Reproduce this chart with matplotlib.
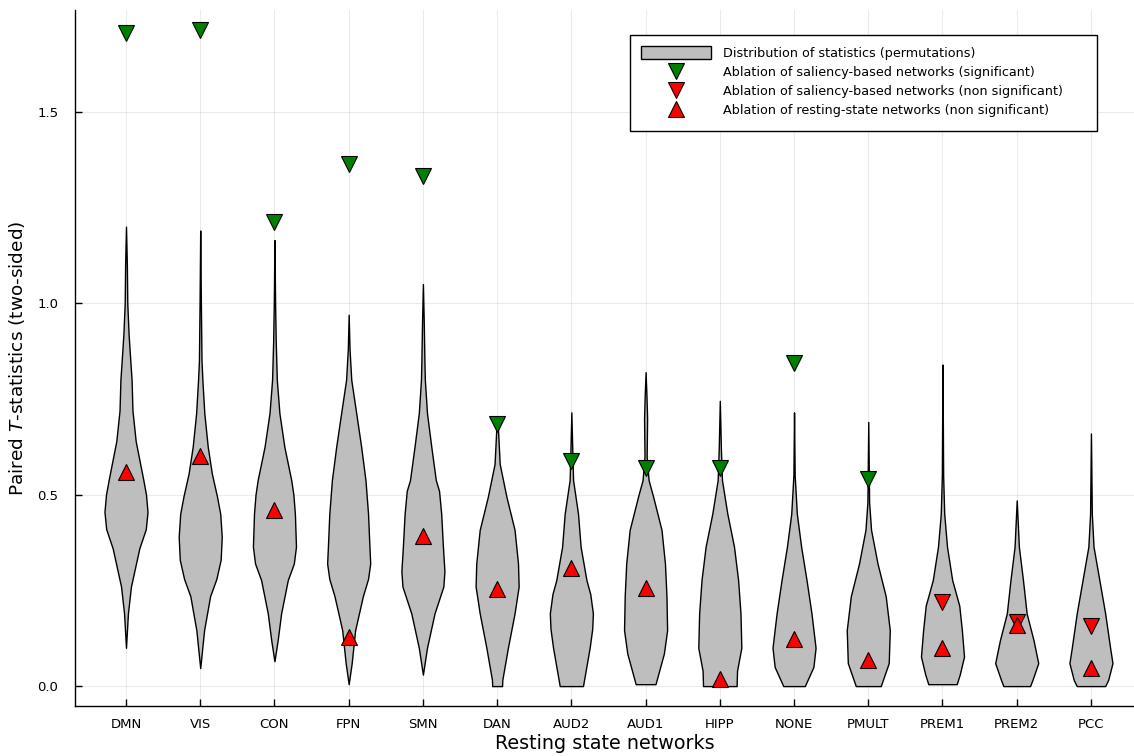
import numpy as np
import matplotlib
matplotlib.use("Agg")
import matplotlib.pyplot as plt
from matplotlib.patches import Patch, Rectangle
from matplotlib.lines import Line2D

# -----------------------------
# Data
# -----------------------------
networks = ["DMN", "VIS", "CON", "FPN", "SMN", "DAN", "AUD2", "AUD1",
            "HIPP", "NONE", "PMULT", "PREM1", "PREM2", "PCC"]

# violin outlines: levels (T-statistic) and relative half-widths (1 = widest)
DMN_Y = [0.10, 0.19, 0.26, 0.36, 0.41, 0.455, 0.50, 0.54, 0.64, 0.72, 0.80, 0.85, 0.92, 1.00, 1.10, 1.20]
DMN_W = [0, 0.09, 0.23, 0.62, 0.92, 1.0, 0.93, 0.80, 0.45, 0.30, 0.26, 0.20, 0.12, 0.06, 0.04, 0]
VIS_Y = [0.047, 0.146, 0.235, 0.28, 0.33, 0.39, 0.45, 0.495, 0.555, 0.625, 0.713, 0.80, 0.85, 1.0, 1.19]
VIS_W = [0, 0.18, 0.46, 0.75, 0.95, 1.0, 0.93, 0.78, 0.54, 0.35, 0.19, 0.1, 0.06, 0.03, 0]
CON_Y = [0.065, 0.12, 0.19, 0.277, 0.32, 0.364, 0.45, 0.50, 0.538, 0.625, 0.713, 0.80, 0.90, 1.0, 1.165]
CON_W = [0, 0.15, 0.31, 0.62, 0.9, 1.0, 0.95, 0.88, 0.78, 0.46, 0.23, 0.11, 0.06, 0.03, 0]
FPN_Y = [0.005, 0.06, 0.146, 0.235, 0.28, 0.32, 0.37, 0.45, 0.538, 0.625, 0.713, 0.80, 0.88, 0.97]
FPN_W = [0, 0.14, 0.30, 0.66, 0.9, 1.0, 0.96, 0.90, 0.78, 0.58, 0.35, 0.12, 0.04, 0]
SMN_Y = [0.03, 0.10, 0.19, 0.26, 0.30, 0.364, 0.45, 0.51, 0.538, 0.625, 0.713, 0.80, 0.85, 0.95, 1.05]
SMN_W = [0, 0.19, 0.54, 0.95, 1.0, 0.93, 0.85, 0.75, 0.6, 0.39, 0.19, 0.09, 0.07, 0.04, 0]
DAN_Y = [0.0, 0.016, 0.10, 0.19, 0.26, 0.32, 0.408, 0.495, 0.58, 0.67, 0.70]
DAN_W = [0.23, 0.24, 0.5, 0.81, 1.0, 0.97, 0.81, 0.43, 0.12, 0.04, 0]
AUD2_Y = [0.0, 0.10, 0.15, 0.19, 0.24, 0.277, 0.364, 0.45, 0.538, 0.60, 0.715]
AUD2_W = [0.54, 0.85, 0.97, 1.0, 0.88, 0.70, 0.43, 0.31, 0.08, 0.05, 0]
AUD1_Y = [0.005, 0.085, 0.146, 0.235, 0.32, 0.408, 0.495, 0.538, 0.60, 0.70, 0.76, 0.82]
AUD1_W = [0.46, 0.85, 1.0, 0.97, 0.9, 0.74, 0.35, 0.14, 0.05, 0.07, 0.04, 0]
HIPP_Y = [0.0, 0.04, 0.10, 0.19, 0.277, 0.364, 0.45, 0.538, 0.62, 0.745]
HIPP_W = [0.78, 0.8, 1.0, 0.96, 0.85, 0.66, 0.35, 0.1, 0.05, 0]
NONE_Y = [0.0, 0.05, 0.10, 0.19, 0.277, 0.364, 0.45, 0.55, 0.715]
NONE_W = [0.5, 0.9, 1.0, 0.81, 0.58, 0.33, 0.13, 0.03, 0]
PMULT_Y = [0.0, 0.06, 0.146, 0.235, 0.32, 0.408, 0.48, 0.69]
PMULT_W = [0.58, 0.95, 1.0, 0.81, 0.43, 0.13, 0.04, 0]
PREM1_Y = [0.005, 0.03, 0.077, 0.146, 0.21, 0.277, 0.364, 0.45, 0.55, 0.84]
PREM1_W = [0.66, 0.8, 1.0, 0.9, 0.78, 0.45, 0.21, 0.08, 0.03, 0]
PREM2_Y = [0.0, 0.016, 0.06, 0.12, 0.19, 0.277, 0.364, 0.485]
PREM2_W = [0.62, 0.73, 1.0, 0.78, 0.46, 0.29, 0.1, 0]
PCC_Y = [0.0, 0.016, 0.06, 0.10, 0.19, 0.277, 0.364, 0.45, 0.66]
PCC_W = [0.66, 0.8, 1.0, 0.89, 0.66, 0.39, 0.12, 0.04, 0]

violin_y = [DMN_Y, VIS_Y, CON_Y, FPN_Y, SMN_Y, DAN_Y, AUD2_Y, AUD1_Y,
            HIPP_Y, NONE_Y, PMULT_Y, PREM1_Y, PREM2_Y, PCC_Y]
violin_w = [DMN_W, VIS_W, CON_W, FPN_W, SMN_W, DAN_W, AUD2_W, AUD1_W,
            HIPP_W, NONE_W, PMULT_W, PREM1_W, PREM2_W, PCC_W]

# saliency-based ablation: significant (green) / non significant (red)
sal_sig_names = ["DMN", "VIS", "CON", "FPN", "SMN", "DAN", "AUD2", "AUD1", "HIPP", "NONE", "PMULT"]
sal_sig_vals = [1.706, 1.714, 1.212, 1.364, 1.333, 0.685, 0.588, 0.57, 0.57, 0.844, 0.541]
sal_ns_names = ["PREM1", "PREM2", "PCC"]
sal_ns_vals = [0.22, 0.167, 0.157]

# resting-state ablation (non significant)
rest_vals = [0.559, 0.60, 0.46, 0.128, 0.392, 0.253, 0.308, 0.256,
             0.018, 0.123, 0.068, 0.099, 0.159, 0.047]

# -----------------------------
# Figure
# -----------------------------
plt.rcParams["font.family"] = "DejaVu Sans"
W, H = 1134, 756
fig = plt.figure(figsize=(W / 100, H / 100), dpi=100)
AX_L, AX_R, AX_T, AX_B = 75, 1134, 10, 706   # axes box in pixels
ax = fig.add_axes([AX_L / W, (H - AX_B) / H, (AX_R - AX_L) / W, (AX_B - AX_T) / H])

def px2ax(x, y):
    # pixel (from top-left) -> axes fraction
    return (x - AX_L) / (AX_R - AX_L), (AX_B - y) / (AX_B - AX_T)

pos = {n: i + 1 for i, n in enumerate(networks)}
HALF = 0.29
for i, (ys, ws) in enumerate(zip(violin_y, violin_w)):
    x = i + 1
    ys = np.array(ys); ws = np.array(ws) * HALF
    ax.fill_betweenx(ys, x - ws, x + ws, facecolor="#bebebe",
                     edgecolor="black", linewidth=1.0, zorder=2)

ms = 12
mk = dict(linestyle="none", markersize=ms, markeredgecolor="black", markeredgewidth=0.8)
ax.plot([pos[n] for n in sal_sig_names], sal_sig_vals, marker="v",
        markerfacecolor="green", zorder=4, **mk)
ax.plot([pos[n] for n in sal_ns_names], sal_ns_vals, marker="v",
        markerfacecolor="red", zorder=4, **mk)
ax.plot(range(1, len(networks) + 1), rest_vals, marker="^",
        markerfacecolor="red", zorder=5, **mk)

ax.set_xlim(0.313, 14.58)
ax.set_ylim(-0.052, 1.766)
ax.set_xticks(range(1, len(networks) + 1))
ax.set_xticklabels(networks)
ax.set_yticks([0.0, 0.5, 1.0, 1.5])
ax.set_yticklabels(["0.0", "0.5", "1.0", "1.5"])
ax.tick_params(direction="in", length=5, width=1, labelsize=9.5)
ax.tick_params(axis="x", pad=9)
ax.tick_params(axis="y", pad=12)
for s in ["top", "right"]:
    ax.spines[s].set_visible(False)
for s in ["left", "bottom"]:
    ax.spines[s].set_linewidth(1.0)
ax.grid(True, color="#000000", alpha=0.08, linewidth=0.8)
ax.set_axisbelow(True)

ax.set_xlabel("Resting state networks", fontsize=13.8, labelpad=2)
ax.set_ylabel("Paired $T$-statistics (two-sided)", fontsize=13.3, labelpad=7)

# legend: frame drawn separately (wider on the right, like the original)
x0, y0 = px2ax(630, 131)
x1, y1 = px2ax(1097, 35)
ax.add_patch(Rectangle((x0, y0), x1 - x0, y1 - y0, transform=ax.transAxes,
                       facecolor="white", edgecolor="black", linewidth=1.0,
                       clip_on=False, zorder=6))
handles = [
    Patch(facecolor="#bebebe", edgecolor="black", linewidth=1.0),
    Line2D([], [], marker="v", markerfacecolor="green", **mk),
    Line2D([], [], marker="v", markerfacecolor="red", **mk),
    Line2D([], [], marker="^", markerfacecolor="red", **mk),
]
labels = ["Distribution of statistics (permutations)",
          "Ablation of saliency-based networks (significant)",
          "Ablation of saliency-based networks (non significant)",
          "Ablation of resting-state networks (non significant)"]
leg = ax.legend(handles, labels, loc="upper left", bbox_to_anchor=(x0, y1),
                bbox_transform=ax.transAxes, fontsize=9.2, frameon=False,
                handlelength=5.5, handleheight=1.2, labelspacing=0.42,
                borderpad=0.85, handletextpad=0.95, borderaxespad=0)
leg.set_zorder(7)

fig.savefig("out.png", dpi=100)
